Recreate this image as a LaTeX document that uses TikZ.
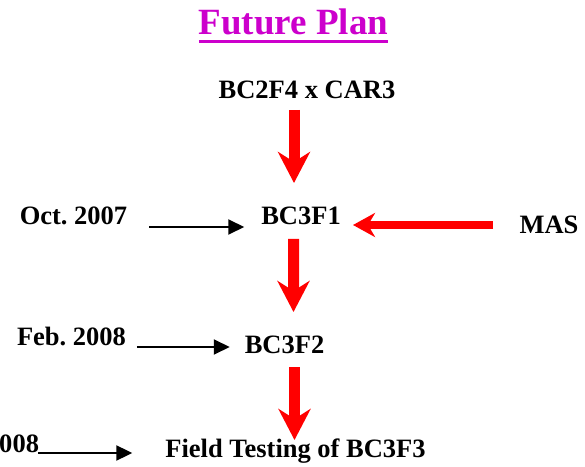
\documentclass[tikz,border=0pt]{standalone}
\usepackage{fontspec}
\setmainfont{Liberation Serif}
\usetikzlibrary{arrows.meta}
\definecolor{titlemag}{RGB}{204,0,204}
\definecolor{arrred}{RGB}{255,0,0}
\frenchspacing
\begin{document}
\begin{tikzpicture}[x=1bp,y=-1bp,
  lbl/.style={inner sep=0pt, outer sep=0pt, anchor=base, font=\fontsize{26.5bp}{30bp}\selectfont\bfseries},
  ttl/.style={inner sep=0pt, outer sep=0pt, anchor=base, text=titlemag, font=\fontsize{37bp}{40bp}\selectfont\bfseries},
  redarr/.style={draw=arrred, line width=11bp, -{Stealth[length=31bp, width=32bp, inset=10bp, fill=arrred]}},
  redarrsmall/.style={draw=arrred, line width=8bp, -{Stealth[length=22bp, width=24bp, inset=7bp, fill=arrred]}},
  blkarr/.style={draw=black, line width=2bp, -{Triangle[length=16bp, width=15bp]}}
]
\useasboundingbox (0,0) rectangle (585,467);

\node[ttl] (title) at (293.5,35) {Future Plan};
\draw[titlemag, line width=2.7bp] ([shift={(0,6.5)}]title.base west) -- ([shift={(0,6.5)}]title.base east);

\node[lbl] (bc2f4) at (307,99) {BC2F4 x CAR3};
\node[lbl] (oct) at (73.5,225) {Oct. 2007};
\node[lbl] (bc3f1) at (301,225) {BC3F1};
\node[lbl] (mas) at (549,234) {MAS};
\node[lbl] (feb) at (71.5,345) {Feb. 2008};
\node[lbl] (bc3f2) at (284.5,353) {BC3F2};
\node[lbl, anchor=base east] (y008) at (39,452) {008};
\node[lbl] (field) at (295.5,457) {Field Testing of BC3F3};

% red arrows
\draw[redarr] ([shift={(-13,11)}]bc2f4.base) -- ([shift={(-7,-42)}]bc3f1.base);
\draw[redarr] ([shift={(-7.5,14)}]bc3f1.base) -- ([shift={(9,-41)}]bc3f2.base);
\draw[redarr] ([shift={(10,14)}]bc3f2.base) -- ([shift={(-1,-17)}]field.base);
\draw[redarrsmall] ([shift={(-56,-9)}]mas.base) -- ([shift={(52,0)}]bc3f1.base);

% black arrows
\draw[blkarr] ([shift={(22,2)}]oct.base east) -- ([shift={(-17,2)}]bc3f1.base west);
\draw[blkarr] ([shift={(11,2)}]feb.base east) -- ([shift={(-15,-6)}]bc3f2.base west);
\draw[blkarr] ([shift={(-1,1)}]y008.base east) -- ([shift={(-33,-4)}]field.base west);
\end{tikzpicture}
\end{document}
